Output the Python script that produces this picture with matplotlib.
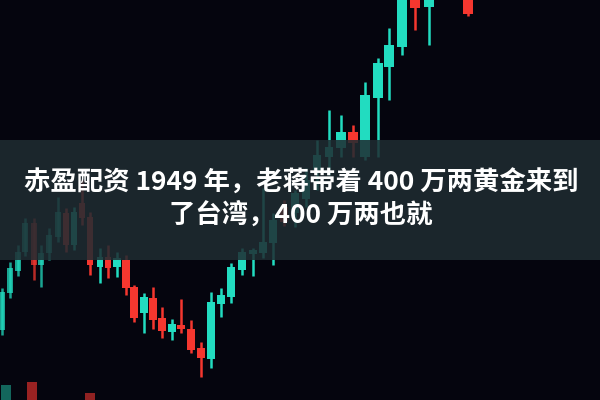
import numpy as np
import matplotlib.pyplot as plt
from matplotlib.patches import Rectangle

plt.rcParams['font.family'] = ['Noto Sans CJK SC', 'DejaVu Sans']

# candle data (price = 400 - pixel row)
xs = [2, 10, 18, 25, 34, 41, 49, 58, 66, 74, 82, 90, 100, 108, 117, 126,
      134, 144, 153, 162, 172, 181, 191, 201, 211, 221, 231, 242, 253, 263,
      273, 284, 295, 306, 317, 329, 341, 353, 365, 378, 389, 402, 415, 429, 468]
opens = [70, 107, 129, 148, 177, 135, 147, 163, 187, 155, 197, 183, 133, 143, 133, 140,
         113, 87, 102, 82, 68, 75, 71, 52, 41, 96, 103, 130, 146, 147,
         157, 193, 187, 201, 230, 243, 252, 268, 243, 302, 333, 353, 405, 393, 405]
closes = [108, 132, 148, 177, 135, 147, 165, 188, 155, 188, 182, 135, 143, 132, 142, 112,
          82, 103, 80, 69, 76, 71, 50, 42, 98, 105, 133, 148, 150, 158,
          180, 178, 207, 220, 245, 253, 268, 257, 305, 337, 355, 405, 392, 405, 386]
highs = [112, 138, 155, 182, 182, 155, 172, 203, 192, 193, 220, 188, 152, 155, 148, 145,
         115, 107, 113, 93, 81, 101, 80, 58, 108, 112, 137, 152, 152, 212,
         187, 200, 210, 232, 260, 290, 285, 275, 318, 342, 372, 410, 410, 410, 410]
lows = [65, 102, 124, 144, 120, 113, 140, 158, 148, 150, 175, 125, 117, 122, 123, 105,
        78, 67, 71, 62, 60, 67, 47, 23, 32, 83, 97, 125, 124, 142,
        135, 174, 173, 193, 210, 225, 243, 243, 240, 243, 300, 345, 370, 355, 384]

# blurred partial candles along the bottom edge
low_xs = [6, 32, 90]
low_tops = [15, 18, 7]

title1 = '赤盈配资 1949 年，老蒋带着 400 万两黄金来到'
title2 = '了台湾，400 万两也就'

teal = '#22dcc0'
red = '#f5372f'

fig = plt.figure(figsize=(6, 4), dpi=100)
ax = fig.add_axes([0, 0, 1, 1])
ax.set_xlim(0, 600)
ax.set_ylim(0, 400)
ax.axis('off')
fig.patch.set_facecolor('#05050e')
ax.set_facecolor('#05050e')

for x, o, c, h, l in zip(xs, opens, closes, highs, lows):
    col = teal if c >= o else red
    w = 6 + x / 110.0
    a = 0.75 if x < 60 else 1.0
    ax.plot([x, x], [l, h], color=col, lw=1.8, alpha=a, solid_capstyle='butt', zorder=2)
    ax.add_patch(Rectangle((x - w / 2, min(o, c)), w, abs(c - o), color=col, alpha=a,
                           lw=0, zorder=3))

for x, t, col in zip(low_xs, low_tops, ['#177f70', '#c02a28', '#b52a28']):
    ax.add_patch(Rectangle((x - 5, 0), 10, t, color=col, alpha=0.8, lw=0, zorder=3))

# translucent banner across the middle
ax.add_patch(Rectangle((0, 140), 600, 120, color='#1f2c32', alpha=0.86, lw=0, zorder=5))

ax.text(301, 217, title1, color='white', fontsize=19, fontweight='bold',
        ha='center', va='center', zorder=6)
ax.text(301, 185, title2, color='white', fontsize=19, fontweight='bold',
        ha='center', va='center', zorder=6)

fig.savefig('out.png', dpi=100, facecolor=fig.get_facecolor())
